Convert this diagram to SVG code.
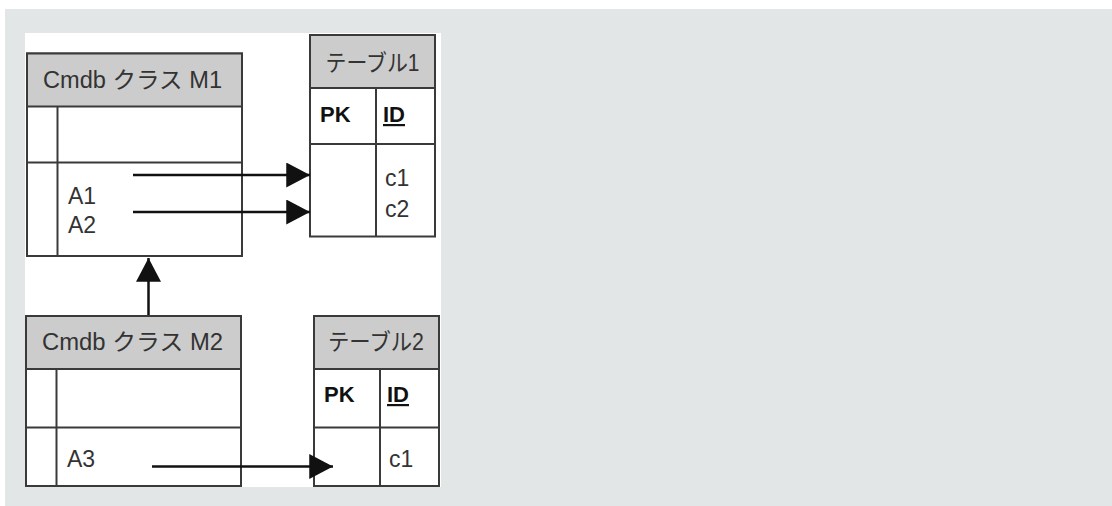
<svg xmlns="http://www.w3.org/2000/svg" width="1112" height="506" viewBox="0 0 1112 506">
<style>
.box{fill:#fff;stroke:#3a3a3a;stroke-width:2}
.hdr{fill:#cccccc;stroke:#3a3a3a;stroke-width:2}
.ln{stroke:#3a3a3a;stroke-width:2;fill:none}
.t{font-family:"Liberation Sans","Noto Sans CJK JP",sans-serif;font-size:23px;fill:#333}
.b{font-family:"Liberation Sans","Noto Sans CJK JP",sans-serif;font-size:22px;font-weight:bold;fill:#111}
.conn{stroke:#111;stroke-width:2.5;fill:none}
</style>
<defs>
<marker id="ah" markerWidth="9.5" markerHeight="10" refX="9.5" refY="5" orient="auto" markerUnits="strokeWidth">
<path d="M0,0 L9.5,5 L0,10 Z" fill="#111"/>
</marker>
</defs>
<rect x="0" y="0" width="1112" height="506" fill="#ffffff"/>
<rect x="5" y="9" width="1107" height="497" fill="#e3e6e7"/>
<rect x="25" y="33" width="416" height="454" fill="#ffffff"/>

<g id="class-m1">
<rect class="box" x="27" y="53.5" width="215" height="202.5"/>
<rect class="hdr" x="27" y="53.5" width="215" height="53"/>
<line class="ln" x1="27" y1="162.5" x2="242" y2="162.5"/>
<line class="ln" x1="57.5" y1="106.5" x2="57.5" y2="256"/>
<text class="t" x="43" y="88" textLength="179" lengthAdjust="spacingAndGlyphs">Cmdb クラス M1</text>
<text class="t" x="68" y="204">A1</text>
<text class="t" x="68" y="233">A2</text>
</g>

<g id="table1">
<rect class="box" x="310" y="35" width="125" height="201.5"/>
<rect class="hdr" x="310" y="35" width="125" height="53"/>
<line class="ln" x1="310" y1="144" x2="435" y2="144"/>
<line class="ln" x1="376" y1="88" x2="376" y2="236.5"/>
<text class="t" x="372.5" y="71" text-anchor="middle" textLength="94" lengthAdjust="spacingAndGlyphs">テーブル1</text>
<text class="b" x="320" y="122">PK</text>
<text class="b" x="383" y="122" text-decoration="underline">ID</text>
<text class="t" x="385" y="186">c1</text>
<text class="t" x="385" y="217">c2</text>
</g>

<g id="class-m2">
<rect class="box" x="26" y="316" width="215" height="170"/>
<rect class="hdr" x="26" y="316" width="215" height="53"/>
<line class="ln" x1="26" y1="427.5" x2="241" y2="427.5"/>
<line class="ln" x1="56.5" y1="369" x2="56.5" y2="486"/>
<text class="t" x="42" y="350" textLength="181" lengthAdjust="spacingAndGlyphs">Cmdb クラス M2</text>
<text class="t" x="67" y="467">A3</text>
</g>

<g id="table2">
<rect class="box" x="314" y="316" width="125" height="170"/>
<rect class="hdr" x="314" y="316" width="125" height="53"/>
<line class="ln" x1="314" y1="427.5" x2="439" y2="427.5"/>
<line class="ln" x1="380" y1="369" x2="380" y2="486"/>
<text class="t" x="376" y="350" text-anchor="middle" textLength="96" lengthAdjust="spacingAndGlyphs">テーブル2</text>
<text class="b" x="324" y="402">PK</text>
<text class="b" x="387" y="402" text-decoration="underline">ID</text>
<text class="t" x="389" y="467">c1</text>
</g>

<g id="connectors">
<line class="conn" x1="133" y1="175" x2="310" y2="175" marker-end="url(#ah)"/>
<line class="conn" x1="133" y1="212" x2="310" y2="212" marker-end="url(#ah)"/>
<line class="conn" x1="148.5" y1="315" x2="148.5" y2="258" marker-end="url(#ah)"/>
<line class="conn" x1="152" y1="466.5" x2="333" y2="466.5" marker-end="url(#ah)"/>
</g>
</svg>
